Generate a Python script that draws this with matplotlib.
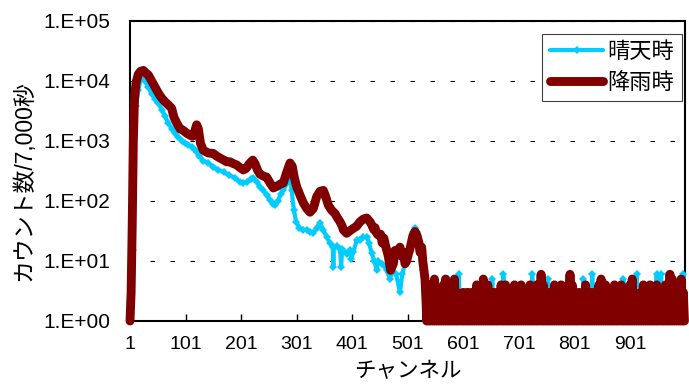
import matplotlib
matplotlib.use('Agg')
import matplotlib.pyplot as plt
from matplotlib.ticker import NullLocator

plt.rcParams['font.family'] = ['Liberation Sans', 'Noto Sans CJK JP']

# ---------------- data ----------------
series_names = ['晴天時', '降雨時']
x_tick_values = [1, 101, 201, 301, 401, 501, 601, 701, 801, 901]
x_tick_labels = ['1', '101', '201', '301', '401', '501', '601', '701', '801', '901']
y_tick_values = [1, 10, 100, 1000, 10000, 100000]
y_tick_labels = ['1.E+00', '1.E+01', '1.E+02', '1.E+03', '1.E+04', '1.E+05']
x_label = 'チャンネル'
y_label = 'カウント数/7,000秒'

# clear weather (晴天時): channels 1-534
blue_head_ch = [1, 2, 3, 4, 5, 6, 7, 9, 12, 16, 20, 23, 28, 34, 40, 46, 52, 58, 64, 70,
                76, 82, 88, 94, 100, 106, 112, 118, 121, 126, 133, 142, 151, 160, 170,
                180, 190, 199, 205, 212, 218, 223, 229, 235, 241, 247, 253, 258, 262,
                267, 272, 277, 283, 287, 289, 292, 296, 300, 306, 312, 319, 325, 331,
                337, 343, 349, 355, 361, 366, 367, 368, 373, 379, 381, 383, 391, 397,
                399, 403, 409, 415, 421, 427, 431, 436, 441, 445, 448, 455, 463, 469,
                473, 480, 487, 491, 497, 505, 510, 514, 518, 523, 529, 532, 534]
blue_head_val = [1, 2, 6, 12, 6, 15, 300, 2100, 3800, 7000, 10500, 11500, 10000, 7900,
                 6000, 5000, 4300, 3300, 2600, 2000, 1600, 1350, 1170, 1000, 930, 860,
                 780, 710, 650, 560, 470, 430, 370, 330, 300, 270, 240, 210, 200, 210,
                 230, 240, 210, 170, 150, 125, 105, 90, 85, 100, 130, 150, 200, 260,
                 290, 150, 70, 45, 36, 33, 33, 30, 29, 36, 43, 33, 25, 20, 17, 8, 17,
                 18, 16, 8, 16, 13, 15, 11, 14, 22, 22, 25, 25, 20, 13.6, 10, 7, 10, 9,
                 7, 5, 7, 6, 3, 6, 10, 17, 30, 36, 30, 18, 7, 3, 1]

# rainy weather (降雨時): channels 1-534
red_head_ch = [1, 3, 5, 7, 9, 12, 16, 20, 25, 30, 34, 40, 46, 52, 58, 64, 70, 76, 80,
               85, 91, 97, 103, 109, 113, 117, 121, 124, 128, 133, 142, 151, 157, 163,
               170, 175, 181, 187, 193, 199, 205, 210, 216, 222, 226, 231, 235, 241,
               247, 253, 259, 265, 271, 277, 283, 289, 293, 297, 301, 307, 313, 319,
               325, 331, 337, 343, 349, 353, 358, 364, 370, 373, 379, 383, 385, 391,
               397, 403, 409, 415, 421, 427, 433, 436, 440, 442, 445, 448, 452, 455,
               458, 461, 464, 466, 470, 475, 478, 481, 487, 490, 493, 496, 499, 502,
               505, 510, 514, 518, 521, 523, 526, 528, 532, 534]
red_head_val = [1, 3, 40, 1000, 5000, 9500, 13000, 14500, 15000, 13500, 12600, 10000,
                8000, 6300, 5200, 4500, 4000, 3500, 2500, 2000, 1600, 1500, 1350, 1250,
                1200, 1400, 1860, 1600, 900, 700, 630, 620, 560, 520, 480, 450, 450,
                420, 400, 360, 330, 350, 420, 480, 420, 320, 280, 260, 250, 200, 165,
                175, 190, 200, 300, 430, 380, 240, 173, 125, 93, 75, 65, 75, 118, 145,
                150, 120, 85, 70, 62, 55, 45, 38, 33, 29, 32, 35, 38, 45, 50, 52, 45,
                40, 33, 36, 29, 27, 28, 20, 24, 18, 14, 12, 7, 9, 15, 14, 17, 12, 14,
                9, 10, 13, 16, 26, 31, 26, 20, 14, 17, 10, 5, 2]

# low-count tail: counts for channels 535, 537, ..., 999 (one digit each)
tail_first_channel = 535
tail_channel_step = 2
blue_tail_counts = ("1213121312" "1312131215" "1213121316" "1312131213" "1213141213"
                    "1312121315" "1213121316" "1312131213" "1213121312" "1312161312"
                    "1213121315" "1312131213" "1213121312" "1312131213" "1512131216"
                    "1312131512" "1213121312" "1312131512" "1213121316" "1312131213"
                    "1213121612" "1612131615" "1312131213" "161")
red_tail_counts = ("1314131513" "1213141513" "1314151312" "1213121312" "1312141213"
                   "1513141213" "1312131412" "1413121314" "1213141312" "1314121314"
                   "1216141312" "1312141213" "1412131416" "1413121312" "1314131213"
                   "1213141513" "1412131214" "1312141312" "1314151312" "1213141213"
                   "1412131413" "1213141316" "1514131415" "131")

# ---------------- build series ----------------
def build(head_ch, head_val, tail):
    ch = list(head_ch) + [tail_first_channel + tail_channel_step * i for i in range(len(tail))]
    val = list(head_val) + [int(d) for d in tail]
    return ch, val

blue_ch, blue_val = build(blue_head_ch, blue_head_val, blue_tail_counts)
red_ch, red_val = build(red_head_ch, red_head_val, red_tail_counts)

# ---------------- plot ----------------
W, H = 689, 385
fig = plt.figure(figsize=(W / 100, H / 100), dpi=100)
ax = fig.add_axes([130 / W, 1 - 321 / H, 555 / W, 300 / H])

blue_color = '#00CCFF'
red_color = '#800000'

ax.plot(blue_ch, blue_val, color=blue_color, lw=3.0, marker='D', markersize=4.3,
        markeredgewidth=0, solid_joinstyle='round', solid_capstyle='round',
        label=series_names[0], zorder=3, clip_on=False)
ax.plot(red_ch, red_val, color=red_color, lw=6.4, solid_joinstyle='round',
        solid_capstyle='round', label=series_names[1], zorder=4, clip_on=False)

ax.set_yscale('log')
ax.set_ylim(1, 1e5)
ax.set_xlim(1, 1000)
ax.set_yticks(y_tick_values)
ax.set_yticklabels(y_tick_labels, fontsize=15)
ax.yaxis.set_minor_locator(NullLocator())
ax.set_xticks(x_tick_values)
ax.set_xticklabels(x_tick_labels, fontsize=14)

ax.tick_params(axis='x', direction='in', length=5, width=1, pad=11, colors='black')
ax.tick_params(axis='y', direction='in', length=0, pad=14, colors='black')
ax.yaxis.grid(True, which='major', color='black', lw=0.8, linestyle=(0, (4, 14)))
ax.set_axisbelow(True)
for s in ax.spines.values():
    s.set_linewidth(1.5)
    s.set_color('black')

fig.text(24 / W, 1 - 181 / H, y_label, rotation=90, ha='center', va='center', fontsize=16.5)
fig.text(408 / W, 1 - 372 / H, x_label, ha='center', va='center', fontsize=15.5)

leg = ax.legend(loc='upper right', bbox_to_anchor=(0.995, 0.957), borderaxespad=0,
                fontsize=16, frameon=True, fancybox=False, framealpha=1,
                edgecolor='#404040', handlelength=2.4, handletextpad=0.2,
                labelspacing=0.45, borderpad=0.35, numpoints=1)
leg.get_frame().set_linewidth(0.8)

fig.savefig('out.png', dpi=100)
